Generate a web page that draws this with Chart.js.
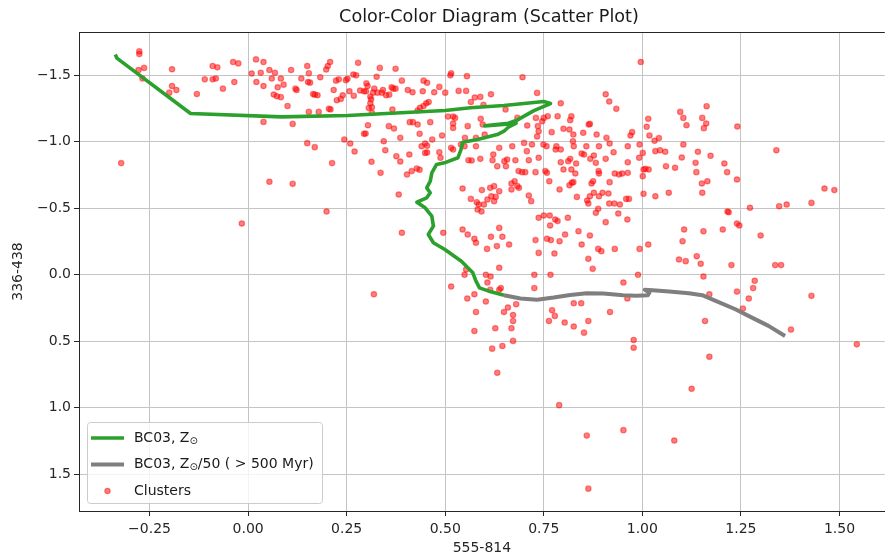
<!DOCTYPE html>
<html>
<head>
<meta charset="utf-8">
<title>Color-Color Diagram</title>
<script src="https://cdn.jsdelivr.net/npm/chart.js@4/dist/chart.umd.min.js"></script>
<style>
  html, body { margin: 0; padding: 0; background: #ffffff; }
  #wrap { width: 890px; height: 558px; }
</style>
</head>
<body>
<div id="wrap"><canvas id="cc" width="890" height="558"></canvas></div>
<script>
// ---- data -------------------------------------------------------------
const chartTitle = 'Color-Color Diagram (Scatter Plot)';
const xLabel = '555-814';
const yLabel = '336-438';

const xTicks = [-0.25, 0, 0.25, 0.5, 0.75, 1.0, 1.25, 1.5];
const yTicks = [-1.5, -1.0, -0.5, 0, 0.5, 1.0, 1.5];
const xRange = [-0.429, 1.615];
const yRange = [-1.826, 1.776];

const seriesNames = ['BC03, Z⊙', 'BC03, Z⊙/50 ( > 500 Myr)', 'Clusters'];

// BC03 solar-metallicity track (555-814, 336-438)
const bc03Solar = [
  [-0.337,-1.657],[-0.333,-1.63],[-0.146,-1.213],[0.085,-1.188],[0.252,-1.198],
  [0.5,-1.236],[0.564,-1.256],[0.649,-1.273],[0.75,-1.303],[0.767,-1.288],
  [0.725,-1.235],[0.68,-1.16],[0.66,-1.14],[0.6,-1.12],[0.64,-1.128],[0.68,-1.14],
  [0.66,-1.11],[0.649,-1.08],[0.632,-1.055],[0.582,-1.018],[0.544,-0.997],
  [0.54,-0.942],[0.532,-0.88],[0.498,-0.842],[0.478,-0.83],[0.466,-0.767],
  [0.462,-0.704],[0.453,-0.654],[0.462,-0.617],[0.453,-0.579],[0.428,-0.546],
  [0.449,-0.504],[0.466,-0.441],[0.47,-0.366],[0.462,-0.328],[0.457,-0.303],
  [0.47,-0.241],[0.499,-0.19],[0.541,-0.102],[0.57,-0.015],[0.578,0.048],
  [0.587,0.098],[0.616,0.128],[0.649,0.153]
];

// BC03 Z/50 track, ages above 500 Myr
const bc03Sub50 = [
  [0.649,0.153],[0.691,0.178],[0.733,0.188],[0.775,0.171],[0.817,0.151],
  [0.859,0.138],[0.901,0.141],[0.951,0.153],[0.985,0.158],[1.014,0.153],
  [1.018,0.133],[1.006,0.113],[1.026,0.116],[1.068,0.126],[1.118,0.138],
  [1.152,0.153],[1.186,0.196],[1.236,0.259],[1.278,0.322],[1.32,0.384],
  [1.362,0.46]
];

// star clusters: [555-814, 336-438]
const clusters = [
  [-0.276,-1.68],[-0.276,-1.66],[-0.278,-1.54],[-0.264,-1.556],[-0.268,-1.476],
  [-0.20,-1.37],[-0.193,-1.42],[-0.182,-1.39],[-0.193,-1.546],[-0.322,-0.84],
  [-0.13,-1.36],[-0.11,-1.47],[-0.09,-1.47],[-0.082,-1.476],[-0.09,-1.57],
  [-0.078,-1.56],[-0.064,-1.40],[-0.035,-1.45],[-0.038,-1.60],[-0.025,-1.59],
  [-0.016,-0.386],[0.009,-1.514],[0.02,-1.62],[0.021,-1.45],[0.032,-1.52],
  [0.039,-1.60],[0.039,-1.42],[0.039,-1.15],[0.054,-1.54],[0.06,-1.476],
  [0.068,-1.52],[0.054,-0.70],[0.065,-1.356],[0.075,-1.41],[0.083,-1.476],
  [0.073,-1.343],[0.083,-1.336],[0.09,-1.43],[0.10,-1.27],[0.109,-1.54],
  [0.113,-1.135],[0.113,-0.684],[0.12,-1.40],[0.123,-1.39],[0.135,-1.476],
  [0.15,-1.57],[0.154,-1.516],[0.152,-1.45],[0.157,-1.445],[0.165,-1.36],
  [0.169,-1.355],[0.176,-1.35],[0.154,-1.225],[0.179,-1.225],[0.15,-0.99],
  [0.169,-0.96],[0.183,-1.486],[0.198,-1.544],[0.202,-1.57],[0.208,-1.60],
  [0.205,-1.248],[0.209,-1.244],[0.217,-1.39],[0.223,-1.46],[0.23,-1.47],
  [0.225,-1.313],[0.235,-1.323],[0.213,-0.84],[0.199,-0.476],[0.24,-1.35],
  [0.244,-1.018],[0.248,-1.464],[0.252,-1.474],[0.257,-1.38],[0.259,-0.987],
  [0.27,-0.927],[0.268,-1.346],[0.267,-1.506],[0.274,-1.50],[0.279,-1.594],
  [0.284,-1.386],[0.294,-1.38],[0.30,-1.44],[0.303,-1.42],[0.299,-1.38],
  [0.31,-1.34],[0.312,-1.32],[0.31,-1.29],[0.314,-1.26],[0.306,-1.255],
  [0.317,-1.37],[0.32,-1.40],[0.326,-1.49],[0.328,-1.37],[0.339,-1.37],
  [0.342,-1.39],[0.334,-1.556],[0.314,-1.218],[0.304,-1.125],[0.294,-1.06],
  [0.298,-1.062],[0.313,-0.85],[0.336,-0.767],[0.344,-1.005],[0.348,-0.937],
  [0.35,-1.35],[0.358,-1.355],[0.364,-1.41],[0.368,-1.40],[0.374,-1.55],
  [0.374,-1.40],[0.357,-1.118],[0.37,-1.10],[0.366,-1.243],[0.376,-0.892],
  [0.386,-0.852],[0.386,-1.03],[0.39,-1.46],[0.405,-1.39],[0.417,-1.373],
  [0.382,-0.604],[0.39,-0.316],[0.409,-0.905],[0.403,-0.754],[0.415,-0.78],
  [0.428,-0.80],[0.435,-0.79],[0.41,-1.148],[0.418,-1.148],[0.43,-1.13],
  [0.435,-1.06],[0.44,-0.967],[0.449,-0.987],[0.454,-0.97],[0.454,-0.92],
  [0.449,-0.917],[0.43,-1.236],[0.436,-1.256],[0.445,-1.27],[0.452,-1.29],
  [0.458,-1.30],[0.445,-1.46],[0.454,-1.444],[0.443,-1.38],[0.472,-1.373],
  [0.462,-1.148],[0.467,-1.018],[0.485,-0.922],[0.488,-0.88],[0.492,-1.048],
  [0.495,-0.316],[0.485,-1.413],[0.5,-1.37],[0.319,0.146],
  [0.996,-1.60],[0.513,-1.50],[0.515,-1.515],[0.555,-1.494],[0.696,-1.486],
  [0.534,-1.383],[0.553,-1.383],[0.616,-1.358],[0.733,-1.368],[0.565,-1.30],
  [0.575,-1.333],[0.589,-1.338],[0.597,-1.278],[0.907,-1.358],[0.916,-1.303],
  [0.934,-1.248],[0.793,-1.29],[1.096,-1.225],[1.104,-1.18],[1.112,-1.125],
  [1.163,-1.268],[1.152,-1.18],[1.162,-1.138],[1.156,-1.103],[1.241,-1.115],
  [1.015,-1.173],[1.011,-1.113],[1.018,-1.048],[1.031,-1.008],[1.042,-1.028],
  [0.974,-1.073],[0.97,-1.048],[0.993,-0.98],[0.507,-1.19],[0.52,-1.19],
  [0.525,-1.18],[0.52,-1.138],[0.52,-1.105],[0.557,-1.118],[0.59,-1.173],
  [0.595,-1.13],[0.653,-1.243],[0.683,-1.18],[0.708,-1.123],[0.73,-1.18],
  [0.75,-1.18],[0.76,-1.193],[0.735,-1.118],[0.785,-1.193],[0.82,-1.193],
  [0.817,-1.163],[0.80,-1.098],[0.815,-1.093],[0.825,-1.055],[0.85,-1.068],
  [0.864,-1.13],[0.867,-1.135],[0.884,-1.055],[0.909,-1.03],[0.77,-1.073],
  [0.746,-1.155],[0.515,-0.955],[0.52,-0.942],[0.55,-1.03],[0.578,-1.03],
  [0.60,-1.055],[0.54,-0.98],[0.549,-0.967],[0.578,-0.967],[0.622,-0.905],
  [0.637,-0.955],[0.67,-0.967],[0.70,-0.992],[0.707,-0.93],[0.733,-1.04],
  [0.737,-1.08],[0.749,-0.98],[0.72,-0.98],[0.757,-0.967],[0.78,-0.942],
  [0.782,-0.967],[0.793,-0.942],[0.824,-1.005],[0.826,-0.967],[0.846,-0.912],
  [0.852,-0.905],[0.858,-0.967],[0.877,-0.897],[0.89,-0.967],[0.917,-0.987],
  [0.927,-0.922],[0.963,-0.967],[1.001,-0.917],[0.992,-0.88],[1.033,-0.93],
  [1.045,-0.937],[1.058,-0.925],[1.104,-0.98],[1.10,-0.882],[1.141,-0.925],
  [1.173,-0.895],[1.34,-0.937],[0.559,-0.862],[0.567,-0.86],[0.589,-0.872],
  [0.62,-0.862],[0.65,-0.855],[0.657,-0.867],[0.632,-0.817],[0.678,-0.862],
  [0.712,-0.862],[0.737,-0.88],[0.654,-0.817],[0.686,-0.78],[0.695,-0.772],
  [0.703,-0.772],[0.729,-0.772],[0.754,-0.78],[0.758,-0.767],[0.764,-0.704],
  [0.80,-0.792],[0.793,-0.847],[0.812,-0.855],[0.817,-0.872],[0.82,-0.792],
  [0.832,-0.837],[0.83,-0.762],[0.868,-0.872],[0.882,-0.842],[0.907,-0.872],
  [0.89,-0.762],[0.875,-0.704],[0.871,-0.687],[0.889,-0.78],[0.917,-0.697],
  [0.93,-0.762],[0.941,-0.754],[0.949,-0.762],[0.963,-0.847],[0.963,-0.767],
  [1.003,-0.792],[1.008,-0.797],[1.016,-0.792],[1.001,-0.742],[1.06,-0.817],
  [1.083,-0.805],[1.135,-0.842],[1.137,-0.772],[1.165,-0.704],[1.151,-0.687],
  [1.152,-0.617],[1.208,-0.837],[1.215,-0.772],[1.24,-0.717],[1.462,-0.649],
  [1.487,-0.637],[0.544,-0.649],[0.593,-0.637],[0.614,-0.654],[0.624,-0.667],
  [0.637,-0.629],[0.565,-0.571],[0.58,-0.546],[0.585,-0.529],[0.598,-0.529],
  [0.582,-0.491],[0.592,-0.476],[0.607,-0.566],[0.617,-0.591],[0.624,-0.554],
  [0.628,-0.586],[0.668,-0.687],[0.676,-0.704],[0.683,-0.667],[0.687,-0.654],
  [0.668,-0.642],[0.712,-0.597],[0.718,-0.554],[0.79,-0.642],[0.815,-0.674],
  [0.821,-0.692],[0.825,-0.697],[0.834,-0.586],[0.863,-0.536],[0.86,-0.559],
  [0.867,-0.591],[0.877,-0.617],[0.89,-0.591],[0.899,-0.617],[0.914,-0.611],
  [0.882,-0.466],[0.888,-0.496],[0.916,-0.536],[0.929,-0.536],[0.943,-0.529],
  [0.939,-0.461],[0.959,-0.571],[0.966,-0.571],[1.003,-0.609],[1.033,-0.591],
  [1.067,-0.617],[1.216,-0.476],[1.219,-0.471],[1.273,-0.504],[1.347,-0.516],
  [1.366,-0.529],[1.429,-0.541],[0.737,-0.429],[0.75,-0.446],[0.765,-0.446],
  [0.779,-0.416],[0.785,-0.404],[0.766,-0.371],[0.811,-0.429],[0.838,-0.328],
  [0.867,-0.296],[0.907,-0.396],[0.962,-0.416],[1.106,-0.341],[1.155,-0.328],
  [1.204,-0.341],[1.24,-0.386],[1.246,-0.371],[1.30,-0.296],[0.637,-0.353],
  [0.544,-0.341],[0.557,-0.303],[0.574,-0.271],[0.578,-0.241],[0.616,-0.286],
  [0.645,-0.286],[0.662,-0.228],[0.606,-0.195],[0.631,-0.216],[0.729,-0.261],
  [0.758,-0.271],[0.768,-0.261],[0.79,-0.253],[0.804,-0.303],[0.846,-0.228],
  [0.888,-0.195],[0.896,-0.178],[0.863,-0.12],[0.874,-0.045],[0.93,-0.195],
  [0.993,-0.195],[1.015,-0.228],[1.102,-0.253],[0.737,-0.165],[0.777,-0.16],
  [0.637,-0.053],[0.553,-0.04],[1.093,-0.115],[1.11,-0.103],[1.138,-0.14],
  [1.148,-0.083],[1.226,-0.073],[1.337,-0.073],[1.352,-0.073],
  [0.515,0.088],[0.549,0.0],[0.556,0.178],[0.574,0.146],[0.578,0.279],
  [0.574,0.422],[0.603,0.0],[0.615,0.013],[0.607,0.058],[0.603,0.201],
  [0.614,0.113],[0.637,0.113],[0.641,0.10],[0.627,0.402],[0.619,0.555],
  [0.645,0.535],[0.632,0.736],[0.649,0.279],[0.659,0.246],[0.672,0.302],
  [0.672,0.347],[0.668,0.402],[0.672,0.497],[0.68,0.221],[0.726,0.0],
  [0.726,0.10],[0.767,0.0],[0.771,0.266],[0.778,0.309],[0.763,0.347],
  [0.803,0.359],[0.826,0.214],[0.845,0.214],[0.826,0.389],[0.852,0.435],
  [0.863,0.347],[0.789,0.98],[0.859,1.209],[0.863,1.608],[0.918,0.279],
  [0.952,0.058],[0.952,1.168],[0.962,0.178],[0.978,0.49],[0.978,0.548],
  [0.989,0.0],[1.081,1.246],[1.125,0.857],[1.155,0.013],[1.159,0.347],
  [1.17,0.146],[1.17,0.616],[1.24,0.126],[1.255,0.254],[1.27,0.178],
  [1.281,0.10],[1.285,0.045],[1.377,0.412],[1.429,0.158],[1.544,0.523]
];

// ---- drawing ----------------------------------------------------------
const FONT = '"DejaVu Sans", "Liberation Sans", sans-serif';
const INK = '#262626';
const toXY = pts => pts.map(p => ({ x: p[0], y: p[1] }));
const fmt = (v, d) => (v < -1e-9 ? '\u2212' : '') + Math.abs(v).toFixed(d);

// draws a label, setting every '⊙' as a small subscript
function drawRich(ctx, text, x, y, size) {
  const parts = text.split('⊙');
  ctx.textBaseline = 'middle';
  ctx.textAlign = 'left';
  parts.forEach((part, i) => {
    ctx.font = size + 'px ' + FONT;
    ctx.fillText(part, x, y);
    x += ctx.measureText(part).width;
    if (i < parts.length - 1) {
      ctx.font = Math.round(size * 0.7) + 'px ' + FONT;
      ctx.fillText('⊙', x, y + size * 0.22);
      x += ctx.measureText('⊙').width;
    }
  });
}

const framePlugin = {
  id: 'frame',
  afterDraw(chart) {
    const { ctx, chartArea: a } = chart;
    ctx.save();
    // top spine
    ctx.strokeStyle = INK;
    ctx.lineWidth = 1;
    ctx.beginPath();
    ctx.moveTo(a.left, a.top + 0.5);
    ctx.lineTo(a.right, a.top + 0.5);
    ctx.stroke();

    // title, centred over the axes
    ctx.fillStyle = '#1a1a1a';
    ctx.font = '17.6px ' + FONT;
    ctx.textAlign = 'center';
    ctx.textBaseline = 'middle';
    ctx.fillText(chartTitle, 489, 17);

    // legend, lower left inside the axes
    const x0 = a.left + 8, y1 = a.bottom - 8, w = 235, h = 81, y0 = y1 - h;
    ctx.beginPath();
    ctx.roundRect(x0 + 0.5, y0 + 0.5, w, h, 3);
    ctx.fillStyle = 'rgba(255,255,255,0.8)';
    ctx.fill();
    ctx.strokeStyle = '#cccccc';
    ctx.lineWidth = 1;
    ctx.stroke();

    const ds = chart.data.datasets;
    const rows = [y0 + 16, y0 + 42.5, y0 + 69];
    ds.forEach((d, i) => {
      const ry = rows[i];
      if (d.showLine) {
        ctx.strokeStyle = d.borderColor;
        ctx.lineWidth = d.borderWidth;
        ctx.lineCap = 'butt';
        ctx.beginPath();
        ctx.moveTo(x0 + 4, ry);
        ctx.lineTo(x0 + 37, ry);
        ctx.stroke();
      } else {
        ctx.beginPath();
        ctx.arc(x0 + 20.5, ry, d.pointRadius, 0, Math.PI * 2);
        ctx.fillStyle = d.backgroundColor;
        ctx.fill();
        ctx.strokeStyle = d.pointBorderColor;
        ctx.lineWidth = d.pointBorderWidth;
        ctx.stroke();
      }
      ctx.fillStyle = '#1a1a1a';
      drawRich(ctx, d.label, x0 + 47, ry, 14);
    });
    ctx.restore();
  }
};

new Chart(document.getElementById('cc'), {
  type: 'scatter',
  data: {
    datasets: [
      {
        label: seriesNames[0],
        data: toXY(bc03Solar),
        showLine: true,
        borderColor: '#2ca02c',
        borderWidth: 3.6,
        borderJoinStyle: 'round',
        pointRadius: 0,
        tension: 0,
        order: 1
      },
      {
        label: seriesNames[1],
        data: toXY(bc03Sub50),
        showLine: true,
        borderColor: '#7f7f7f',
        borderWidth: 4,
        borderJoinStyle: 'round',
        pointRadius: 0,
        tension: 0,
        order: 0
      },
      {
        label: seriesNames[2],
        data: toXY(clusters),
        showLine: false,
        backgroundColor: 'rgba(255,0,0,0.5)',
        pointBorderColor: 'rgba(255,0,0,0.45)',
        pointBorderWidth: 1.2,
        pointRadius: 2.7,
        order: 2
      }
    ]
  },
  options: {
    responsive: false,
    devicePixelRatio: 1,
    animation: false,
    events: [],
    layout: { padding: { top: 32, left: 0, right: 0, bottom: 0 } },
    plugins: { legend: { display: false }, title: { display: false }, tooltip: { enabled: false } },
    scales: {
      x: {
        type: 'linear',
        position: 'bottom',
        min: xRange[0],
        max: xRange[1],
        afterBuildTicks: s => { s.ticks = xTicks.map(v => ({ value: v })); },
        afterFit: s => { s.height = 47; },
        ticks: {
          callback: v => fmt(v, 2),
          font: { family: FONT, size: 14 },
          color: INK,
          padding: 4.5,
          maxRotation: 0,
          autoSkip: false
        },
        grid: { color: '#c4c4c4', lineWidth: 1, tickLength: 5, tickColor: INK, tickWidth: 1 },
        border: { display: true, color: INK, width: 1 },
        title: {
          display: true,
          text: xLabel,
          font: { family: FONT, size: 14 },
          color: INK,
          padding: { top: 0, bottom: 1 }
        }
      },
      y: {
        type: 'linear',
        position: 'left',
        reverse: true,
        min: yRange[0],
        max: yRange[1],
        afterBuildTicks: s => { s.ticks = yTicks.map(v => ({ value: v })); },
        afterFit: s => { s.width = 79; },
        ticks: {
          callback: v => fmt(v, 1),
          font: { family: FONT, size: 14 },
          color: INK,
          padding: 3,
          autoSkip: false
        },
        grid: { color: '#c4c4c4', lineWidth: 1, tickLength: 5, tickColor: INK, tickWidth: 1 },
        border: { display: true, color: INK, width: 1 },
        title: {
          display: true,
          text: yLabel,
          font: { family: FONT, size: 14 },
          color: INK,
          padding: { top: 10, bottom: 0 }
        }
      }
    }
  },
  plugins: [framePlugin]
});
</script>
</body>
</html>
